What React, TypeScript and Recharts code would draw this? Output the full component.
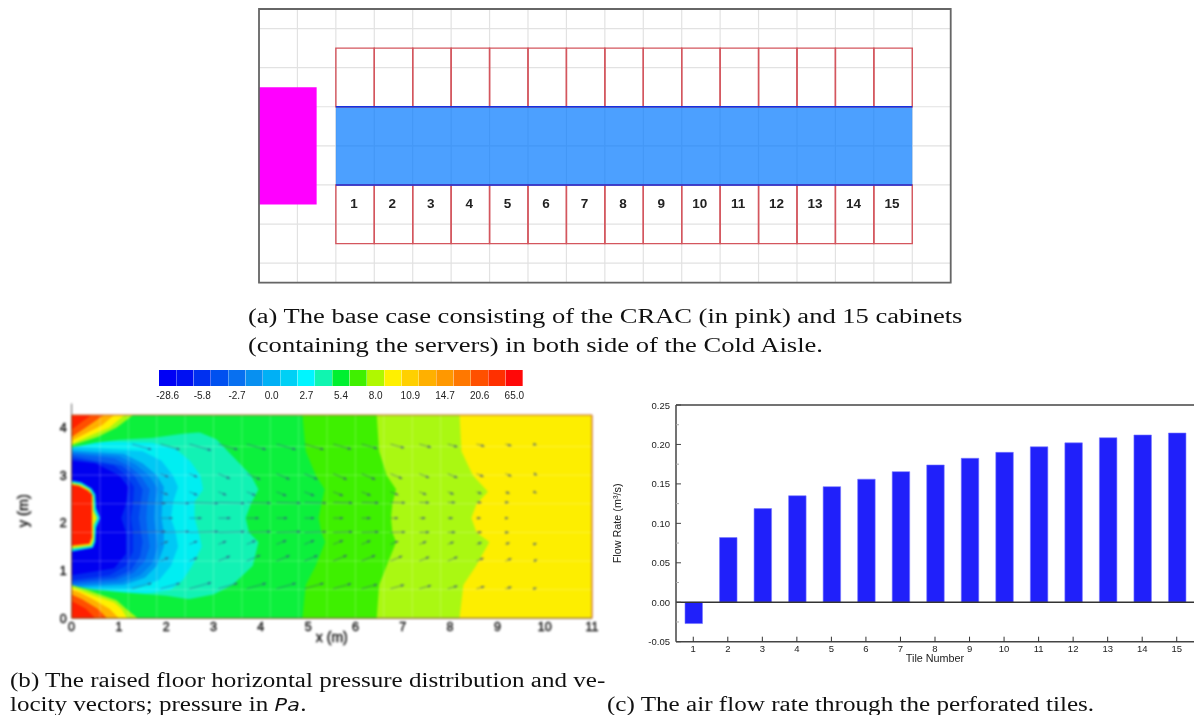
import { Area, Bar, BarChart, CartesianGrid, Cell, ComposedChart, ReferenceArea, ReferenceDot, ReferenceLine, XAxis, YAxis } from "recharts";

const SANS = "'Liberation Sans', Arial, sans-serif";
const SERIF = "'Liberation Serif', 'Times New Roman', serif";

// (c) flow rate per tile
const tileNumbers = [1, 2, 3, 4, 5, 6, 7, 8, 9, 10, 11, 12, 13, 14, 15];
const flowRates = [-0.027, 0.082, 0.1187, 0.135, 0.1465, 0.156, 0.1655, 0.174, 0.1825, 0.19, 0.197, 0.202, 0.2085, 0.212, 0.2145];
const flowTicks = [-0.05, -0.025, 0, 0.025, 0.05, 0.075, 0.1, 0.125, 0.15, 0.175, 0.2, 0.225, 0.25];
const flowData = tileNumbers.map((tile, i) => ({ tile, flow: flowRates[i] }));

// (a) layout, in floor-grid units
const cabinetStarts = [2, 3, 4, 5, 6, 7, 8, 9, 10, 11, 12, 13, 14, 15, 16];
const layoutGridX = [1, 2, 3, 4, 5, 6, 7, 8, 9, 10, 11, 12, 13, 14, 15, 16, 17];
const layoutGridY = [0, 1, 2, 3, 4, 5, 6];
const layoutRows = cabinetStarts.map((x) => ({ x, y: 2 }));

// (b) colour bar
const barLabels = ["-28.6", "", "-5.8", "", "-2.7", "", "0.0", "", "2.7", "", "5.4", "", "8.0", "", "10.9", "", "14.7", "", "20.6", "", "65.0"];
const barColors = ["#0000f5", "#0010f2", "#0030f0", "#0050f0", "#0870f0", "#0890f0", "#00b0f5", "#00d0f5", "#00f5ff", "#10f5b0", "#00f030", "#40f000", "#b0f800", "#fff000", "#ffd000", "#ffb000", "#ff9800", "#ff7800", "#ff5000", "#ff3000", "#ff0808"];
const barData = barColors.map((_, cell) => ({ cell, span: 1 }));

// (b) pressure contours: [y, x] points along each edge
type Edge = number[][];
const fullField: Edge = [[0, 11], [4.26, 11]];
const limeEdge: Edge = [[0, 8.2], [0.7, 8.28], [1.1, 8.55], [1.6, 8.83], [1.8, 8.56], [2.1, 8.45], [2.4, 8.56], [2.65, 8.8], [3, 8.48], [3.5, 8.24], [4.26, 8.2]];
const brightEdge: Edge = [[0, 6.45], [0.7, 6.5], [1.1, 6.66], [1.6, 6.86], [1.8, 6.78], [2.1, 6.75], [2.4, 6.78], [2.7, 6.86], [3, 6.66], [3.5, 6.5], [4.26, 6.45]];
const greenEdge: Edge = [[0, 4.88], [0.7, 4.95], [1.1, 5.16], [1.6, 5.36], [1.8, 5.28], [2.1, 5.22], [2.4, 5.28], [2.7, 5.35], [3, 5.16], [3.5, 4.95], [4.26, 4.88]];
const tealEdge: Edge = [[0.37, 2.3], [0.5, 3], [0.7, 3.4], [1.1, 3.83], [1.6, 3.95], [1.8, 3.75], [2.1, 3.68], [2.4, 3.79], [2.7, 3.95], [3, 3.79], [3.4, 3.4], [3.75, 3.06], [3.9, 2.7]];
const cyanEdge: Edge = [[0.5, 0], [0.52, 1.6], [0.6, 2.1], [0.8, 2.35], [1.1, 2.55], [1.5, 2.75], [1.75, 2.7], [2.1, 2.6], [2.45, 2.6], [2.7, 2.78], [3, 2.72], [3.3, 2.5], [3.55, 2.2], [3.68, 1.7], [3.72, 0]];
const skyEdge: Edge = [[0.58, 0], [0.62, 1.3], [0.8, 1.85], [1.1, 2.1], [1.5, 2.25], [1.8, 2.2], [2.1, 2.1], [2.45, 2.15], [2.75, 2.25], [3, 2.14], [3.3, 1.9], [3.5, 1.5], [3.6, 0]];
const azureEdge: Edge = [[0.65, 0], [0.7, 1.1], [0.85, 1.55], [1.1, 1.8], [1.5, 1.95], [1.8, 1.95], [2.1, 1.9], [2.45, 1.92], [2.75, 1.95], [3, 1.8], [3.25, 1.5], [3.45, 1.1], [3.52, 0]];
const oceanEdge: Edge = [[0.68, 0], [0.75, 1.05], [0.9, 1.45], [1.15, 1.7], [1.5, 1.82], [1.82, 1.78], [2.1, 1.74], [2.42, 1.76], [2.72, 1.82], [3, 1.63], [3.22, 1.36], [3.4, 1], [3.48, 0]];
const blueEdge: Edge = [[0.72, 0], [0.8, 0.95], [0.95, 1.3], [1.2, 1.55], [1.5, 1.65], [1.85, 1.6], [2.1, 1.58], [2.4, 1.6], [2.7, 1.65], [3, 1.45], [3.2, 1.2], [3.35, 0.9], [3.45, 0]];
const cobaltEdge: Edge = [[0.76, 0], [0.85, 0.9], [1, 1.25], [1.3, 1.45], [1.6, 1.5], [1.85, 1.46], [2.1, 1.42], [2.4, 1.46], [2.7, 1.5], [3, 1.32], [3.2, 1.05], [3.4, 0]];
const royalEdge: Edge = [[0.8, 0], [0.9, 0.8], [1.1, 1.15], [1.4, 1.3], [1.8, 1.3], [2.1, 1.25], [2.4, 1.3], [2.75, 1.32], [3, 1.15], [3.2, 0.9], [3.35, 0]];
const deepEdge: Edge = [[0.9, 0], [1.05, 0.9], [1.35, 1.15], [1.8, 1.15], [2.1, 1.05], [2.4, 1.15], [2.75, 1.2], [3, 1], [3.25, 0.5], [3.3, 0]];
const rimCyan: Edge = [[1.4, 0], [1.48, 0.45], [1.6, 0.5], [1.9, 0.52], [2.1, 0.6], [2.3, 0.52], [2.6, 0.5], [2.72, 0.42], [2.85, 0.2], [2.88, 0]];
const rimYellow: Edge = [[1.46, 0], [1.52, 0.42], [1.65, 0.47], [1.95, 0.47], [2.1, 0.54], [2.25, 0.47], [2.55, 0.46], [2.7, 0.38], [2.8, 0.2], [2.84, 0]];
const inletRed: Edge = [[1.52, 0], [1.56, 0.38], [1.7, 0.43], [2.6, 0.43], [2.68, 0.34], [2.78, 0.15], [2.8, 0]];
const wedgeTop: Edge = [[3.58, 0], [3.68, 0.5], [3.74, 1], [3.78, 1.7], [3.86, 2.3], [3.9, 2.7], [3.93, 3.2], [4.26, 3.2]];
const wedgeBottom: Edge = [[0, 3.2], [0.35, 3.2], [0.37, 2.7], [0.47, 2], [0.55, 1], [0.6, 0.5], [0.68, 0]];
const cornerTopLime: Edge = [[3.62, 0], [3.8, 0.55], [4, 0.95], [4.26, 1.3]];
const cornerTopYellow: Edge = [[3.65, 0], [3.85, 0.45], [4, 0.8], [4.26, 1.12]];
const cornerTopOrange: Edge = [[3.72, 0], [3.9, 0.35], [4.05, 0.65], [4.26, 0.9]];
const cornerTopRed: Edge = [[3.8, 0], [4, 0.3], [4.15, 0.52], [4.26, 0.68]];
const cornerTopDeep: Edge = [[3.95, 0], [4.12, 0.22], [4.26, 0.42]];
const cornerLowLime: Edge = [[0, 1.4], [0.2, 1.15], [0.38, 0.95], [0.55, 0.45], [0.7, 0]];
const cornerLowYellow: Edge = [[0, 1.18], [0.2, 1.05], [0.33, 0.9], [0.5, 0.4], [0.65, 0]];
const cornerLowOrange: Edge = [[0, 1], [0.2, 0.8], [0.4, 0.45], [0.55, 0.15], [0.6, 0]];
const cornerLowRed: Edge = [[0, 0.75], [0.2, 0.55], [0.4, 0.22], [0.5, 0]];
const cornerLowDeep: Edge = [[0, 0.5], [0.2, 0.3], [0.36, 0]];

const contourLayers: [Edge, string][] = [
  [fullField, "#fdee00"], [limeEdge, "#aaf812"], [brightEdge, "#3ef000"], [greenEdge, "#0cf03c"],
  [tealEdge, "#12f2b4"], [cyanEdge, "#00eef2"], [skyEdge, "#00c8f5"], [azureEdge, "#0098f2"], [oceanEdge, "#007cf2"],
  [blueEdge, "#0560f0"], [cobaltEdge, "#0044f0"], [royalEdge, "#0028f0"], [deepEdge, "#0000f0"],
  [rimCyan, "#00e8e0"], [rimYellow, "#e6f000"], [inletRed, "#ff2000"],
  [wedgeTop, "#0cf03c"], [wedgeBottom, "#0cf03c"],
  [cornerTopLime, "#a8f810"], [cornerTopYellow, "#fff000"], [cornerTopOrange, "#ffb000"], [cornerTopRed, "#ff5000"], [cornerTopDeep, "#ff2000"],
  [cornerLowLime, "#a8f810"], [cornerLowYellow, "#fff000"], [cornerLowOrange, "#ffb000"], [cornerLowRed, "#ff5000"], [cornerLowDeep, "#ff2000"],
];

// (b) velocity vectors: column positions, then per row [u lengths], height and slope
const vectorColumns = [1.28, 1.88, 2.49, 3.1, 3.7, 4.33, 4.92, 5.53, 6.13, 6.74, 7.35, 7.95, 8.56, 9.17, 9.77, 10.38];
const vectorRows = [
  { y: 3.65, slope: -0.28, u: [0.4, 0.4, 0.45, 0.4, 0.4, 0.4, 0.4, 0.37, 0.32, 0.28, 0.24, 0.2, 0.16, 0.12, 0.05, 0.03] },
  { y: 3.03, slope: -0.42, u: [0, 0.16, 0.16, 0.24, 0.28, 0.27, 0.27, 0.28, 0.28, 0.24, 0.2, 0.2, 0.14, 0.12, 0.06, 0.04] },
  { y: 2.65, slope: -0.4, u: [0, 0.15, 0.16, 0.16, 0.18, 0.2, 0.2, 0.2, 0.18, 0.16, 0.14, 0.12, 0.1, 0.08, 0.05, 0.03] },
  { y: 2.43, slope: -0.03, u: [0.7, 0.6, 0.6, 0.55, 0.5, 0.5, 0.45, 0.4, 0.35, 0.3, 0.2, 0.15, 0.1, 0.06, 0.04, 0.02] },
  { y: 2.1, slope: 0, u: [0, 0.25, 0.25, 0.25, 0.25, 0.22, 0.2, 0.2, 0.18, 0.15, 0.12, 0.1, 0.08, 0.05, 0.03, 0.02] },
  { y: 1.8, slope: 0.03, u: [0.7, 0.6, 0.6, 0.55, 0.5, 0.5, 0.45, 0.4, 0.35, 0.3, 0.2, 0.15, 0.1, 0.06, 0.04, 0.02] },
  { y: 1.55, slope: 0.4, u: [0, 0.15, 0.16, 0.16, 0.18, 0.2, 0.2, 0.2, 0.18, 0.16, 0.14, 0.12, 0.1, 0.08, 0.05, 0.03] },
  { y: 1.2, slope: 0.42, u: [0, 0.16, 0.16, 0.24, 0.28, 0.27, 0.27, 0.28, 0.28, 0.24, 0.2, 0.2, 0.14, 0.12, 0.06, 0.04] },
  { y: 0.62, slope: 0.28, u: [0.4, 0.4, 0.45, 0.4, 0.4, 0.4, 0.4, 0.37, 0.32, 0.28, 0.24, 0.2, 0.16, 0.12, 0.05, 0.03] },
];
const fieldGridX = [0.6, 1.2, 1.8, 2.4, 3, 3.6, 4.2, 4.8, 5.4, 6, 6.6, 7.2, 7.8];
const fieldGridY = [0.6, 1.2, 1.8, 2.4, 3, 3.6];
const fieldTicksX = [0, 1, 2, 3, 4, 5, 6, 7, 8, 9, 10, 11];
const fieldTicksY = [0, 1, 2, 3, 4];

const toRows = (edge: Edge) => edge.map(([y, x]) => ({ y, x }));

function FlowYTick({ x, y, payload }: any) {
  const major = Math.round(payload.value * 1000) % 50 === 0;
  return (
    <g>
      <line x1={x + 8} x2={x + (major ? 13 : 11)} y1={y} y2={y} stroke={major ? "#444" : "#aaa"} />
      {major && (
        <text x={x + 2} y={y + 3.5} textAnchor="end" fontSize={9.5} fontFamily={SANS} fill="#222">
          {payload.value.toFixed(2)}
        </text>
      )}
    </g>
  );
}

function FlowXTick({ x, y, payload }: any) {
  return (
    <g>
      <line x1={x} x2={x} y1={y - 13} y2={y - 8} stroke="#333" />
      <text x={x} y={y + 2} textAnchor="middle" fontSize={9.5} fontFamily={SANS} fill="#222">
        {payload.value}
      </text>
    </g>
  );
}

function LayoutPanel() {
  return (
    <ComposedChart width={730} height={295} margin={{ top: 9, right: 19.3, bottom: 12.3, left: 19 }} data={layoutRows} style={{ position: "absolute", left: 240, top: 0, filter: "blur(0.5px)" }}>
      <XAxis hide type="number" dataKey="x" domain={[0, 18]} ticks={layoutGridX} />
      <YAxis hide type="number" dataKey="y" domain={[-0.5, 6.5]} ticks={layoutGridY} />
      <CartesianGrid stroke="#e2e2e2" strokeWidth={1.2} />
      <ReferenceArea x1={2} x2={17} y1={2} y2={4} fill="#0078ff" fillOpacity={0.7} stroke="none" />
      {cabinetStarts.map((s) => (
        <ReferenceArea key={`t${s}`} x1={s} x2={s + 1} y1={4} y2={5.5} fill="none" stroke="#d4565e" strokeWidth={1.4} />
      ))}
      {cabinetStarts.map((s) => (
        <ReferenceArea key={`b${s}`} x1={s} x2={s + 1} y1={0.5} y2={2} fill="none" stroke="#d4565e" strokeWidth={1.4} />
      ))}
      <ReferenceLine segment={[{ x: 2, y: 4 }, { x: 17, y: 4 }]} stroke="#1430e0" strokeWidth={1.6} />
      <ReferenceLine segment={[{ x: 2, y: 2 }, { x: 17, y: 2 }]} stroke="#1430e0" strokeWidth={1.6} />
      <ReferenceArea x1={0} x2={1.5} y1={1.5} y2={4.5} fill="#ff00ff" fillOpacity={1} stroke="none" />
      <ReferenceArea x1={0} x2={18} y1={-0.5} y2={6.5} fill="none" stroke="#666" strokeWidth={1.8} />
      {cabinetStarts.map((s, i) => (
        <ReferenceDot
          key={`n${s}`}
          x={s + 0.47}
          y={1.53}
          r={0}
          stroke="none"
          label={{ value: tileNumbers[i], position: "center", fontSize: 13.5, fontWeight: 700, fontFamily: SANS, fill: "#222" }}
        />
      ))}
    </ComposedChart>
  );
}

function ColorBar() {
  return (
    <BarChart width={385} height={45} data={barData} margin={{ top: 8, right: 12, bottom: 0, left: 9 }} barCategoryGap={0} style={{ position: "absolute", left: 150, top: 362, filter: "blur(0.5px)" }}>
      <XAxis
        dataKey="cell"
        interval={1}
        height={21}
        axisLine={false}
        tickLine={false}
        tickSize={0}
        tickMargin={6}
        tickFormatter={(i: number) => barLabels[i]}
        tick={{ fontSize: 10, fontFamily: SANS, fill: "#222" }}
      />
      <YAxis hide domain={[0, 1]} />
      <Bar dataKey="span" isAnimationActive={false}>
        {barData.map((d) => (
          <Cell key={d.cell} fill={barColors[d.cell]} />
        ))}
      </Bar>
    </BarChart>
  );
}

function PressurePanel() {
  return (
    <ComposedChart layout="vertical" width={600} height={290} margin={{ top: 55, right: 8, bottom: 0, left: 0 }} style={{ position: "absolute", left: 0, top: 360, filter: "blur(0.9px)" }}>
      <defs>
        <marker id="vectorHead" markerWidth={4} markerHeight={3} refX={3} refY={1.5} orient="auto" markerUnits="userSpaceOnUse">
          <path d="M0,0 L4,1.5 L0,3 Z" fill="#37508c" fillOpacity={0.7} />
        </marker>
      </defs>
      <XAxis
        type="number"
        dataKey="x"
        domain={[0, 11]}
        ticks={fieldTicksX}
        interval={0}
        allowDataOverflow
        height={31.7}
        stroke="#7a4a30"
        tickSize={0}
        tickMargin={4}
        tick={{ fontSize: 12.5, fontFamily: SANS, fill: "#111", stroke: "#111", strokeWidth: 0.4 }}
        label={{ value: "x (m)", position: "insideBottom", offset: 8, fontSize: 14, fontFamily: SANS, fill: "#111", stroke: "#111", strokeWidth: 0.4 }}
      />
      <YAxis
        type="number"
        dataKey="y"
        domain={[0, 4.26]}
        ticks={fieldTicksY}
        interval={0}
        reversed
        allowDataOverflow
        width={71.6}
        stroke="#7a4a30"
        tickSize={0}
        tickMargin={5}
        tick={{ fontSize: 12.5, fontFamily: SANS, fill: "#111", stroke: "#111", strokeWidth: 0.4 }}
        label={{ value: "y (m)", angle: -90, position: "insideLeft", dx: 18, dy: -6, textAnchor: "middle", fontSize: 14.5, fontFamily: SANS, fill: "#111", stroke: "#111", strokeWidth: 0.4 }}
      />
      {contourLayers.map(([edge, color], i) => (
        <Area key={i} data={toRows(edge)} dataKey="x" type="linear" fill={color} fillOpacity={1} stroke="none" dot={false} activeDot={false} isAnimationActive={false} />
      ))}
      {fieldGridX.map((x) => (
        <ReferenceLine key={`gx${x}`} x={x} stroke="#fff" strokeOpacity={0.22} />
      ))}
      {fieldGridY.map((y) => (
        <ReferenceLine key={`gy${y}`} y={y} stroke="#fff" strokeOpacity={0.22} />
      ))}
      {vectorRows.flatMap((row, r) =>
        row.u
          .map((u, c) => ({ u, c }))
          .filter(({ u }) => u > 0.04)
          .map(({ u, c }) => (
            <ReferenceLine
              key={`v${r}-${c}`}
              segment={[
                { x: vectorColumns[c], y: row.y },
                { x: vectorColumns[c] + u, y: row.y + u * row.slope },
              ]}
              stroke="#37508c"
              strokeOpacity={0.6}
              strokeWidth={0.9}
              markerEnd="url(#vectorHead)"
            />
          ))
      )}
      <ReferenceLine x={11} stroke="#c8642c" strokeWidth={1.2} />
      <ReferenceLine y={4.26} stroke="#c8642c" strokeWidth={1.2} />
      <ReferenceLine segment={[{ x: 0, y: 4.26 }, { x: 0, y: 4.5 }]} stroke="#666" ifOverflow="visible" />
    </ComposedChart>
  );
}

function FlowPanel() {
  return (
    <BarChart width={594} height={290} data={flowData} margin={{ top: 15, right: 0, bottom: 0, left: 0 }} barCategoryGap="50%" style={{ position: "absolute", left: 600, top: 390, filter: "blur(0.4px)" }}>
      <XAxis
        dataKey="tile"
        interval={0}
        height={38.3}
        stroke="#444"
        strokeWidth={1.5}
        tickLine={false}
        tick={<FlowXTick />}
        label={{ value: "Tile Number", position: "insideBottom", offset: 18, fontSize: 10.8, fontFamily: SANS, fill: "#222" }}
      />
      <YAxis
        type="number"
        domain={[-0.05, 0.25]}
        ticks={flowTicks}
        interval={0}
        width={76}
        stroke="#444"
        strokeWidth={1.5}
        tickLine={false}
        tick={<FlowYTick />}
        label={{ value: "Flow Rate (m³/s)", angle: -90, position: "insideLeft", dx: 12, textAnchor: "middle", fontSize: 10.8, fontFamily: SANS, fill: "#222" }}
      />
      <Bar dataKey="flow" fill="#2020fa" stroke="#7878ff" strokeWidth={0.6} barSize={17.5} isAnimationActive={false} />
      <ReferenceLine y={0} stroke="#333" strokeWidth={1.5} />
      <ReferenceLine y={0.25} stroke="#444" strokeWidth={1.5} />
    </BarChart>
  );
}

const captions = [
  { text: "(a) The base case consisting of the CRAC (in pink) and 15 cabinets", left: 248, top: 306, stretch: 1.327 },
  { text: "(containing the servers) in both side of the Cold Aisle.", left: 248, top: 335, stretch: 1.327 },
  { text: "(b) The raised floor horizontal pressure distribution and ve-", left: 10, top: 670, stretch: 1.253 },
  { text: "locity vectors; pressure in ", italic: "Pa", tail: ".", left: 10, top: 694, stretch: 1.253 },
  { text: "(c) The air flow rate through the perforated tiles.", left: 607, top: 694, stretch: 1.256 },
];

export default function App() {
  return (
    <div style={{ position: "absolute", left: 0, top: 0, width: 1194, height: 715, background: "#fff", overflow: "hidden" }}>
      <LayoutPanel />
      <ColorBar />
      <PressurePanel />
      <FlowPanel />
      {captions.map((c) => (
        <div
          key={c.text}
          style={{
            position: "absolute",
            left: c.left,
            top: c.top,
            fontFamily: SERIF,
            fontSize: 20,
            lineHeight: "20px",
            whiteSpace: "nowrap",
            color: "#111",
            transform: `scaleX(${c.stretch})`,
            transformOrigin: "left top",
          }}
        >
          {c.text}
          {c.italic && <i style={{ fontFamily: "'DejaVu Sans Mono', monospace", fontSize: 17 }}>{c.italic}</i>}
          {c.tail}
        </div>
      ))}
    </div>
  );
}
